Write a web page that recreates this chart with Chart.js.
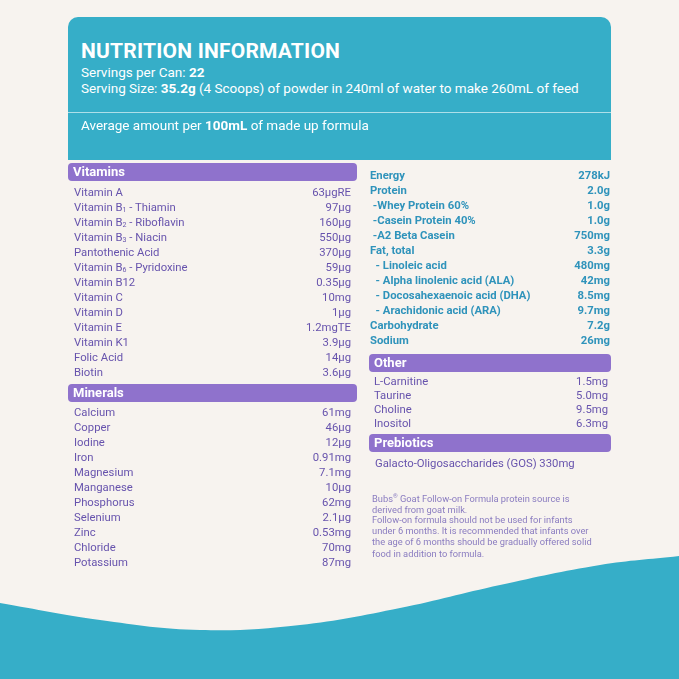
<!DOCTYPE html>
<html><head><meta charset="utf-8">
<script src="https://cdn.jsdelivr.net/npm/chart.js@4"></script>
<style>
body{margin:0;width:679px;height:679px;background:#f7f3ef;font-family:Roboto,sans-serif;overflow:hidden;position:relative}
#wave{position:absolute;left:0;top:0;width:679px;height:679px}
.abs{position:absolute}
#top{left:68px;top:17px;width:543px;height:143px;background:#36aec8;border-radius:10px 10px 0 0;color:#fff}
#top h1{position:absolute;left:13px;top:22px;margin:0;font-size:21px;font-weight:700;letter-spacing:0.2px}
#top .l{position:absolute;left:13px;font-size:13.5px}
#top hr{position:absolute;left:0;top:95px;width:543px;margin:0;border:0;border-top:1px solid rgba(255,255,255,0.6)}
.hdr{position:absolute;background:#8f72cc;color:#fff;font-weight:700;font-size:13px;border-radius:4px;height:18px;line-height:18px;padding-left:5px;box-sizing:border-box}
.row{position:absolute;font-size:11.3px;display:flex;justify-content:space-between;height:15px;line-height:15px}
.row sub{font-size:7px;vertical-align:-1px}
.L{color:#6753ad}
.R{color:#2f93bb;font-weight:700}
.note{position:absolute;left:372px;width:225px;font-size:9.3px;color:#8a7cc0;line-height:11.2px}
#content{position:absolute;left:0;top:0}
</style></head><body>
<canvas id="wave" width="679" height="679"></canvas>
<div id="top" class="abs">
<h1>NUTRITION INFORMATION</h1>
<div class="l" style="top:47px">Servings per Can: <b>22</b></div>
<div class="l" style="top:63px">Serving Size: <b>35.2g</b> (4 Scoops) of powder in 240ml of water to make 260mL of feed</div>
<hr>
<div class="l" style="top:100px">Average amount per <b>100mL</b> of made up formula</div>
</div>
<div id="content"></div>
<script>
const vitaminNames=["Vitamin A","Vitamin B<sub>1</sub> - Thiamin","Vitamin B<sub>2</sub> - Riboflavin","Vitamin B<sub>3</sub> - Niacin","Pantothenic Acid","Vitamin B<sub>6</sub> - Pyridoxine","Vitamin B12","Vitamin C","Vitamin D","Vitamin E","Vitamin K1","Folic Acid","Biotin"];
const vitaminValues=["63µgRE","97µg","160µg","550µg","370µg","59µg","0.35µg","10mg","1µg","1.2mgTE","3.9µg","14µg","3.6µg"];
const mineralNames=["Calcium","Copper","Iodine","Iron","Magnesium","Manganese","Phosphorus","Selenium","Zinc","Chloride","Potassium"];
const mineralValues=["61mg","46µg","12µg","0.91mg","7.1mg","10µg","62mg","2.1µg","0.53mg","70mg","87mg"];
const mainNames=["Energy","Protein","&nbsp;-Whey Protein 60%","&nbsp;-Casein Protein 40%","&nbsp;-A2 Beta Casein","Fat, total","&nbsp;&nbsp;- Linoleic acid","&nbsp;&nbsp;- Alpha linolenic acid (ALA)","&nbsp;&nbsp;- Docosahexaenoic acid (DHA)","&nbsp;&nbsp;- Arachidonic acid (ARA)","Carbohydrate","Sodium"];
const mainValues=["278kJ","2.0g","1.0g","1.0g","750mg","3.3g","480mg","42mg","8.5mg","9.7mg","7.2g","26mg"];
const otherNames=["L-Carnitine","Taurine","Choline","Inositol"];
const otherValues=["1.5mg","5.0mg","9.5mg","6.3mg"];
const prebioticNames=["Galacto-Oligosaccharides (GOS) 330mg"];
const waveX=[0,100,200,300,400,500,600,679];
const waveY=[603,620,630,625,608,585,565,556];

const c=document.getElementById('content');
function hdr(t,x,y,w){c.insertAdjacentHTML('beforeend',`<div class="hdr" style="left:${x}px;top:${y}px;width:${w}px">${t}</div>`);}
function rows(n,v,x,y,w,step,cls){n.forEach((s,i)=>c.insertAdjacentHTML('beforeend',`<div class="row ${cls}" style="left:${x}px;top:${y+i*step}px;width:${w}px"><span>${s}</span><span>${v[i]||''}</span></div>`));}
hdr("Vitamins",68,163,289);
rows(vitaminNames,vitaminValues,74,185,277,15,"L");
hdr("Minerals",68,384,289);
rows(mineralNames,mineralValues,74,405,277,15,"L");
rows(mainNames,mainValues,370,168,240,15,"R");
hdr("Other",369,354,242);
rows(otherNames,otherValues,374,374,234,14,"L");
hdr("Prebiotics",369,434,242);
rows(prebioticNames,[],375,456,234,15,"L");
c.insertAdjacentHTML('beforeend',`<div class="note" style="top:490px">Bubs<sup style="font-size:6px">®</sup> Goat Follow-on Formula protein source is derived from goat milk.</div><div class="note" style="top:514px">Follow-on formula should not be used for infants under 6 months. It is recommended that infants over the age of 6 months should be gradually offered solid food in addition to formula.</div>`);

new Chart(document.getElementById('wave'),{type:'line',
data:{datasets:[{data:waveX.map((x,i)=>({x,y:waveY[i]})),fill:'start',backgroundColor:'#36aec8',borderWidth:0,pointRadius:0,tension:0.4}]},
options:{responsive:false,animation:false,layout:{padding:0},plugins:{legend:{display:false},tooltip:{enabled:false}},
scales:{x:{type:'linear',min:0,max:679,display:false},y:{min:0,max:679,reverse:true,display:false}}}});
</script>
</body></html>
